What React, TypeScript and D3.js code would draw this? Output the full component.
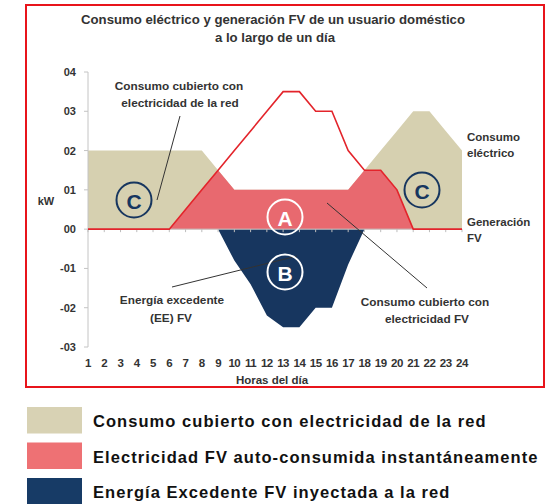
import React from 'react';
import * as d3 from 'd3';

// horas del día (categorías del eje X)
const horas = [1, 2, 3, 4, 5, 6, 7, 8, 9, 10, 11, 12, 13, 14, 15, 16, 17, 18, 19, 20, 21, 22, 23, 24];
// consumo eléctrico (kW)
const consumo = [0.2, 0.2, 0.2, 0.2, 0.2, 0.2, 0.2, 0.2, 0.15, 0.1, 0.1, 0.1, 0.1, 0.1, 0.1, 0.1, 0.1, 0.15, 0.2, 0.25, 0.3, 0.3, 0.25, 0.2];
// generación FV (kW)
const generacion = [0, 0, 0, 0, 0, 0, 0.05, 0.1, 0.15, 0.2, 0.25, 0.3, 0.35, 0.35, 0.3, 0.3, 0.2, 0.15, 0.15, 0.1, 0, 0, 0, 0];
// energía excedente inyectada (dibujada hacia abajo)
const excedente = [0, 0, 0, 0, 0, 0, 0, 0, 0, -0.08, -0.14, -0.22, -0.25, -0.25, -0.2, -0.2, -0.09, 0, 0, 0, 0, 0, 0, 0];

const yTicks = [-0.3, -0.2, -0.1, 0, 0.1, 0.2, 0.3, 0.4];
const yTickLabels = ['-03', '-02', '-01', '00', '01', '02', '03', '04'];

const leyenda = [
  { texto: 'Consumo cubierto con electricidad de la red', color: '#d8d2b4' },
  { texto: 'Electricidad FV auto-consumida instantáneamente', color: '#ee7174' },
  { texto: 'Energía Excedente FV inyectada a la red', color: '#173b66' },
];

const TAN = '#d6d0b0';
const PINK = '#e8696f';
const NAVY = '#17365f';
const RED = '#e3242b';
const TXT = '#333';
const FONT = '"Liberation Sans", Arial, sans-serif';

export default function App() {
  const x = d3.scaleLinear().domain([1, 24]).range([88, 462]);
  const y = d3.scaleLinear().domain([-0.3, 0.4]).range([347, 72]);

  const autoconsumo = horas.map((_, i) => Math.min(consumo[i], generacion[i]));

  const area = (vals: number[]) =>
    d3.area<number>()
      .x((_, i) => x(horas[i]))
      .y0(y(0))
      .y1(d => y(d))(vals) || '';

  const lineaFV = d3.line<number>()
    .x((_, i) => x(horas[i]))
    .y(d => y(d))(generacion) || '';

  const bold = { fontFamily: FONT, fontWeight: 700 as const };
  const ann = { textAnchor: 'middle' as const, dominantBaseline: 'central' as const, fontSize: 11.8, fill: TXT, ...bold };

  return (
    <svg width={548} height={504} style={{ position: 'absolute', left: 0, top: 0, background: '#fff' }}>
      <rect x={26} y={5} width={518} height={382} fill="none" stroke="#e8141b" strokeWidth={2} />

      <text x={273} y={19} textAnchor="middle" dominantBaseline="central" fontSize={13.2} fill={TXT} {...bold}>
        Consumo eléctrico y generación FV de un usuario doméstico
      </text>
      <text x={275} y={37} textAnchor="middle" dominantBaseline="central" fontSize={13.2} fill={TXT} {...bold}>
        a lo largo de un día
      </text>

      {/* áreas */}
      <path d={area(consumo)} fill={TAN} />
      <path d={area(autoconsumo)} fill={PINK} />
      <path d={area(excedente)} fill={NAVY} />

      {/* ejes */}
      <line x1={x(1)} x2={x(1)} y1={y(-0.3)} y2={y(0.4)} stroke="#c4c4c4" />
      {yTicks.map((t, i) => (
        <g key={t}>
          <line x1={x(1) - 4} x2={x(1)} y1={y(t)} y2={y(t)} stroke="#c4c4c4" />
          <text x={76} y={y(t)} textAnchor="end" dominantBaseline="central" fontSize={11} fill={TXT} {...bold}>
            {yTickLabels[i]}
          </text>
        </g>
      ))}
      <line x1={x(1)} x2={x(24)} y1={y(0)} y2={y(0)} stroke="#c4c4c4" />
      {horas.map(h => (
        <g key={h}>
          <line x1={x(h)} x2={x(h)} y1={y(0)} y2={y(0) + 3} stroke="#bdbdbd" />
          <text x={x(h)} y={363} textAnchor="middle" dominantBaseline="central" fontSize={11.5} letterSpacing={-0.5} fill={TXT} {...bold}>
            {h}
          </text>
        </g>
      ))}
      <text x={272} y={380} textAnchor="middle" dominantBaseline="central" fontSize={11.5} fill={TXT} {...bold}>
        Horas del día
      </text>
      <text x={46} y={201} textAnchor="middle" dominantBaseline="central" fontSize={11} fill={TXT} {...bold}>
        kW
      </text>

      {/* generación FV */}
      <path d={lineaFV} fill="none" stroke={RED} strokeWidth={1.6} />

      {/* etiquetas derecha */}
      <text x={467} y={137} fontSize={11.5} dominantBaseline="central" fill={TXT} {...bold}>Consumo</text>
      <text x={467} y={153} fontSize={11.5} dominantBaseline="central" fill={TXT} {...bold}>eléctrico</text>
      <text x={467} y={222} fontSize={11.5} dominantBaseline="central" fill={TXT} {...bold}>Generación</text>
      <text x={467} y={238} fontSize={11.5} dominantBaseline="central" fill={TXT} {...bold}>FV</text>

      {/* anotaciones */}
      <line x1={180} y1={116} x2={157} y2={200} stroke="#333" strokeWidth={1} />
      <line x1={327} y1={203} x2={427} y2={288} stroke="#333" strokeWidth={1} />
      <line x1={172} y1={287} x2={297} y2={256} stroke="#333" strokeWidth={1} />

      <text x={179} y={86} {...ann}>Consumo cubierto con</text>
      <text x={180} y={103} {...ann}>electricidad de la red</text>
      <text x={425} y={302} {...ann}>Consumo cubierto con</text>
      <text x={427} y={319} {...ann}>electricidad FV</text>
      <text x={172} y={300} {...ann}>Energía excedente</text>
      <text x={171} y={318} {...ann}>(EE) FV</text>

      {/* círculos */}
      {[
        { cx: 134, cy: 200, l: 'C', c: NAVY },
        { cx: 422, cy: 190, l: 'C', c: NAVY },
        { cx: 285, cy: 217, l: 'A', c: '#fff' },
        { cx: 285, cy: 272, l: 'B', c: '#fff' },
      ].map((d, i) => (
        <g key={i}>
          <circle cx={d.cx} cy={d.cy} r={17.5} fill="none" stroke={d.c} strokeWidth={2} />
          <text x={d.cx} y={d.cy + 1} textAnchor="middle" dominantBaseline="central" fontSize={21} fill={d.c} {...bold}>
            {d.l}
          </text>
        </g>
      ))}

      {/* leyenda */}
      {leyenda.map((d, i) => (
        <g key={d.texto}>
          <rect x={27} y={407 + i * 35.5} width={55} height={26.5} fill={d.color} />
          <text x={93} y={421 + i * 35.5} dominantBaseline="central" fontSize={16.5} letterSpacing={1.05} fill="#111" {...bold}>
            {d.texto}
          </text>
        </g>
      ))}
    </svg>
  );
}
